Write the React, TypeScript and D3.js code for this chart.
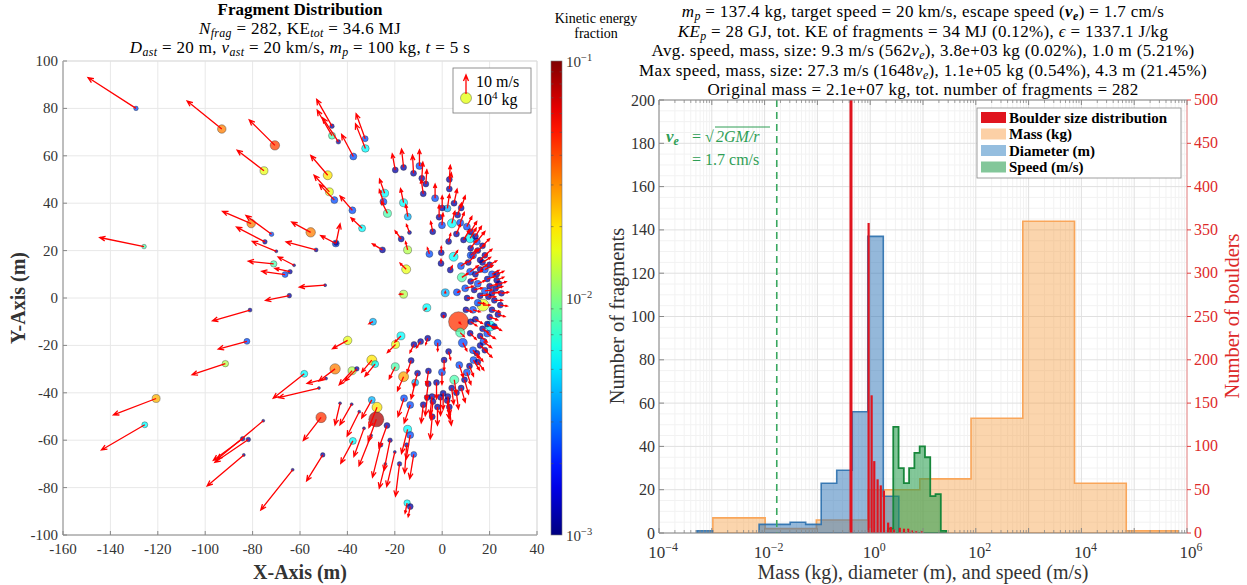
import React from 'react';
import * as d3 from 'd3';

// ---------------- DATA ----------------
// Fragment rows: [x (m), y (m), vx (m/s), vy (m/s), mass (kg), KE fraction]
const outerFragments: number[][] = [
  [-129.2, 80.0, -23.8, 15.3, 306, 0.0025],
  [-93.0, 71.3, -17.2, 13.9, 3600, 0.032],
  [-70.6, 64.4, -12.7, 12.6, 5500, 0.042],
  [-75.2, 53.7, -13.3, 10.2, 2800, 0.016],
  [-125.8, 21.7, -22.0, 4.5, 306, 0.008],
  [-46.5, 72.5, -7.6, 13.3, 306, 0.0012],
  [-46.5, 68.5, -7.3, 12.6, 1640, 0.008],
  [-43.8, 65.9, -7.8, 11.9, 306, 0.0012],
  [-37.5, 59.7, -5.8, 10.9, 1640, 0.0025],
  [-32.5, 67.2, -4.5, 12.4, 884, 0.0025],
  [-32.4, 63.1, -4.9, 12.2, 2200, 0.0056],
  [-48.3, 51.8, -8.4, 9.8, 4480, 0.02],
  [-47.6, 44.8, -7.6, 8.2, 2800, 0.016],
  [-45.5, 41.3, -7.4, 7.8, 1640, 0.0025],
  [-37.9, 37.0, -6.1, 7.1, 1640, 0.0025],
  [-33.8, 29.4, -5.5, 5.2, 1640, 0.0056],
  [-80.6, 31.4, -14.2, 6.1, 3600, 0.032],
  [-72.0, 26.9, -12.7, 9.3, 306, 0.0025],
  [-74.8, 23.7, -14.1, 7.3, 306, 0.0012],
  [-53.2, 20.3, -14.9, 4.0, 175, 0.0012],
  [-70.0, 19.7, -11.9, 4.9, 55, 0.0012],
  [-55.5, 27.7, -9.4, 5.1, 5500, 0.032],
  [-44.9, 23.0, -7.5, 3.9, 1640, 0.0025],
  [-44.8, 23.1, 2.0, 9.6, 306, 0.0012],
  [-71.1, 14.4, -12.6, 1.3, 1200, 0.008],
  [-62.5, 13.8, -7.9, 4.1, 55, 0.0012],
  [-66.3, 9.9, -11.6, 1.6, 884, 0.0025],
  [-64.2, 11.1, -7.5, 1.6, 306, 0.0012],
  [-49.4, 5.4, -12.8, -0.9, 55, 0.0012],
  [-64.5, 1.0, -11.8, -2.4, 306, 0.0012],
  [-81.1, -5.1, -18.6, -5.3, 175, 0.0012],
  [-82.4, -18.3, -14.2, -3.8, 884, 0.0025],
  [-91.5, -27.7, -16.5, -5.5, 1200, 0.0126],
  [-120.7, -42.4, -21.2, -8.1, 2800, 0.025],
  [-125.5, -53.5, -21.5, -12.5, 884, 0.0056],
  [-81.8, -59.7, -16.6, -11.3, 306, 0.0012],
  [-84.2, -59.4, -14.5, -10.7, 306, 0.0012],
  [-75.5, -51.8, -22.9, -19.1, 55, 0.0012],
  [-83.7, -66.2, -18.2, -15.4, 55, 0.0012],
  [-63.1, -72.5, -15.8, -19.9, 55, 0.0012],
  [-50.4, -66.2, -8.0, -12.9, 306, 0.0012],
  [-51.1, -50.4, -8.8, -11.4, 8000, 0.045],
  [-37.7, -60.3, -6.0, -11.1, 1640, 0.0056],
  [-45.2, -29.9, -8.0, -6.0, 8000, 0.032],
  [-39.9, -17.9, -7.5, -4.1, 3600, 0.016],
  [-38.0, -30.7, -6.4, -6.9, 2800, 0.0126],
  [-58.2, -32.0, -15.4, -12.1, 1640, 0.0056],
  [-49.0, -34.0, -9.4, -2.4, 55, 0.0012],
  [-52.0, -38.0, -20.0, -4.7, 55, 0.0012],
  [-36.0, -29.9, -5.9, -6.0, 306, 0.0012],
  [-43.1, -44.4, -2.5, -10.7, 55, 0.0012],
  [-38.2, -44.8, -5.8, -10.2, 55, 0.0012],
  [-33.0, -55.0, -5.0, -14.0, 55, 0.0012],
  [-30.0, -58.0, -6.0, -15.0, 55, 0.0012],
  [-26.0, -62.0, -4.0, -16.0, 306, 0.0012],
  [-22.0, -60.0, -3.0, -15.0, 306, 0.0012],
  [-20.0, -65.0, -4.0, -17.0, 55, 0.0012],
  [-18.0, -70.0, -2.0, -16.0, 306, 0.0012],
  [-24.0, -70.0, -3.0, -12.0, 55, 0.0012],
  [-15.0, -62.0, -1.0, -14.0, 306, 0.0012],
  [-12.0, -66.0, -2.0, -12.0, 884, 0.0025],
  [-35.0, -48.0, -6.0, -12.0, 55, 0.0012],
  [-14.8, -86.5, -1.0, -5.0, 1200, 0.0056],
  [-13.5, -88.0, -1.0, -5.0, 884, 0.0012],
];

const upperFragments: number[][] = [
  [-19.8, 54.0, -1.5, 8, 884, 0.0012],
  [-16.3, 55.1, -1, 9, 884, 0.0012],
  [-9.6, 55.7, 0, 8, 1640, 0.0025],
  [-12.1, 52.6, -0.5, 9, 884, 0.0012],
  [-8.6, 50.5, 0.5, 8, 884, 0.0012],
  [-6.9, 48.1, 0.5, 7, 884, 0.0012],
  [-24.3, 44.2, -2.5, 7, 2800, 0.0056],
  [-24.8, 40.6, -2, 6, 1640, 0.0025],
  [-23.1, 35.7, -3, 6, 2800, 0.008],
  [-16.3, 40.2, -1.5, 7, 2800, 0.0056],
  [-14.5, 34.3, -1, 6, 1640, 0.004],
  [-13.8, 27.6, -1.5, 4, 175, 0.0012],
  [-17.3, 24.9, -3, 4, 884, 0.0012],
  [-14.6, 20.3, -1, 4, 2800, 0.0126],
  [-15.2, 12.1, -3, 3, 4480, 0.016],
  [-25.2, 20.3, -5, 3, 884, 0.0012],
  [-3.0, 42.1, 0, 7, 1640, 0.0025],
  [3.0, 46.0, 1, 8, 884, 0.0012],
  [-0.1, 30.7, 0.5, 6, 1640, 0.0025],
  [-1.3, 34.1, 0, 6, 884, 0.0012],
  [2.2, 37.8, 1, 7, 1640, 0.004],
  [4.1, 31.5, 1.5, 6, 4480, 0.0056],
  [6.5, 35.0, 2, 6, 884, 0.0012],
  [7.6, 31.8, 2, 5, 1640, 0.0025],
  [10.4, 30.1, 2.5, 5, 1640, 0.0025],
  [11.8, 25.2, 3, 5, 4480, 0.0056],
  [9.0, 24.5, 3, 5, 884, 0.0012],
  [14.6, 23.8, 4, 5, 1640, 0.0025],
  [2.7, 23.8, 1, 4, 884, 0.0012],
  [-0.4, 19.1, 0, 3, 884, 0.0012],
  [-5.4, 18.6, -1, 3, 1640, 0.0025],
  [-0.5, 14.6, 0, 2, 884, 0.0012],
  [4.8, 17.4, 2, 3, 4480, 0.0056],
  [3.4, 11.8, 1, 2, 884, 0.0012],
  [7.9, 13.5, 3, 2, 1640, 0.0025],
  [8.3, 8.7, 3, 2, 4480, 0.008],
  [11.8, 11.1, 4, 3, 1640, 0.0025],
  [9.7, 4.1, 4, 1, 1640, 0.0025],
  [13.5, 3.4, 4, 1, 884, 0.0012],
  [5.0, 40.0, 1.5, 7, 884, 0.0012],
  [8.0, 38.0, 2, 6, 884, 0.0012],
  [0.0, 38.0, 0, 6, 884, 0.0012],
  [-4.0, 28.0, -1, 5, 884, 0.0012],
  [12.0, 28.0, 3, 5, 884, 0.0012],
  [6.0, 27.0, 2, 5, 884, 0.0012],
  [3.0, 50.0, 0.5, 7, 884, 0.0012],
  [-8.0, 44.0, -1, 7, 884, 0.0012],
];

const arcFragments: number[][] = [
  [15, 20, 3.5, 3, 884, 0.0012],
  [17, 15, 4, 2.5, 884, 0.0012],
  [18, 12, 4, 2, 1640, 0.0025],
  [19, 8, 4, 1.5, 884, 0.0012],
  [20, 5, 4, 1, 884, 0.0012],
  [21, 2, 4, 0.5, 884, 0.0012],
  [22, -1, 4, 0, 884, 0.0012],
  [21, -5, 4, -1, 884, 0.0012],
  [20, -8, 4, -1.5, 884, 0.0012],
  [19, -15, 4, -2.5, 1640, 0.0025],
  [16, -20, 3.5, -3, 884, 0.0012],
  [12, 18, 3, 3, 1640, 0.0025],
  [14, 10, 3.5, 2, 884, 0.0012],
  [15, 6, 3.5, 1.5, 1640, 0.0025],
  [16, 1, 4, 0.5, 884, 0.0012],
  [13, -5, 3.5, -1, 1640, 0.0025],
  [14, -9, 3.5, -2, 884, 0.0012],
  [10, -5, 3, -1, 884, 0.0012],
  [11, 15, 3, 3, 884, 0.0012],
  [16, 16, 3.5, 3, 884, 0.0012],
  [18, 18, 3.5, 3, 884, 0.0012],
  [23, 10, 3.5, 1.5, 884, 0.0012],
  [24, 6, 3.5, 1, 884, 0.0012],
  [25, 2, 3.5, 0.5, 884, 0.0012],
  [24.5, -3, 3.5, -0.5, 884, 0.0012],
  [23.5, -7, 3.5, -1, 884, 0.0012],
  [22, -12, 3.5, -2, 884, 0.0012],
  [20, 14, 3.5, 2, 884, 0.0012],
  [21, 10, 3.5, 2, 1640, 0.0025],
  [22.5, 4, 3.5, 1, 884, 0.0012],
  [19, -11, 3.5, -2, 884, 0.0012],
  [17, -13, 3, -2, 884, 0.0012],
  [18, 3, 3.5, 0.5, 1640, 0.0025],
  [19.5, 0.5, 3.5, 0, 884, 0.0012],
  [23, 7.5, 3.5, 1.5, 884, 0.0012],
  [12, 21, 3, 4, 884, 0.0012],
  [14, 26, 3, 5, 884, 0.0012],
  [17, 22, 3.5, 3.5, 884, 0.0012],
  [13, 18, 3, 3, 1640, 0.0025],
  [16, 12, 3.5, 2.5, 884, 0.0012],
  [12, 7, 3, 1.5, 884, 0.0012],
  [10.5, 0, 3, 0, 884, 0.0012],
  [15, -2, 3.5, -0.5, 1640, 0.0025],
  [12, -10, 3, -2, 884, 0.0012],
  [16, -16, 3.5, -3, 884, 0.0012],
  [18, -22, 3.5, -3.5, 884, 0.0012],
  [15, -27, 3, -4, 884, 0.0012],
  [13, -22, 3, -4, 1640, 0.0025],
  [17.2, -3.0, 3.5, 0, 14000, 0.016],
  [1.3, 2.2, 0, 0.5, 2800, 0.004],
  [6.2, 2.4, 1.5, 0.5, 1640, 0.0025],
  [-6.5, -4.1, -1, -1, 2800, 0.0056],
  [-16.3, 1.6, -2, 0, 2800, 0.0126],
  [-29.2, -10.0, -2, -1, 1640, 0.004],
  [0.6, -7.2, 0, -1, 884, 0.0012],
  [6.9, -10.0, 1, -1, 109000, 0.045],
  [7.6, -14.6, 2, -2, 4480, 0.008],
  [20.3, -11.8, 4, -1, 6800, 0.0056],
];

const lowerFragments: number[][] = [
  [8.7, -18.9, 2, -4, 4480, 0.0025],
  [11.8, -14.9, 3, -3, 884, 0.0012],
  [17.4, -18.4, 4, -3, 1640, 0.0025],
  [14.6, -23.3, 3, -4, 884, 0.0012],
  [13.2, -26.2, 3, -5, 1640, 0.0025],
  [11.5, -28.7, 2, -5, 884, 0.0012],
  [7.2, -28.3, 2, -6, 1640, 0.0025],
  [10.4, -31.4, 2, -6, 1640, 0.0025],
  [9.4, -34.5, 2, -7, 884, 0.0012],
  [5.1, -34.5, 1, -7, 4480, 0.008],
  [-0.1, -31.3, 0, -6, 1640, 0.0025],
  [2.7, -22.6, 1, -4, 884, 0.0012],
  [0.8, -26.2, 0, -5, 884, 0.0012],
  [-1.9, -18.9, 0, -4, 1640, 0.0025],
  [-6.1, -17.0, -1, -3, 884, 0.0012],
  [-9.1, -18.4, -2, -3, 884, 0.0012],
  [-11.9, -19.6, -2, -4, 884, 0.0012],
  [-17.4, -16.0, -3, -3, 2800, 0.0056],
  [-19.7, -19.6, -4, -4, 2800, 0.016],
  [-19.8, -29.0, -3, -6, 2800, 0.008],
  [-16.3, -33.2, -3, -7, 6800, 0.027],
  [-13.1, -26.4, -2, -6, 884, 0.0012],
  [-10.4, -31.7, -2, -7, 884, 0.0012],
  [-5.8, -30.8, -1, -7, 884, 0.0012],
  [-11.4, -35.7, -2, -8, 1640, 0.004],
  [-5.9, -36.2, -1, -8, 884, 0.0012],
  [-2.4, -35.7, 0, -8, 884, 0.0012],
  [0.4, -40.2, 0, -8, 884, 0.0012],
  [-0.7, -41.9, 0, -9, 884, 0.0012],
  [2.4, -41.6, 1, -9, 884, 0.0012],
  [2.1, -43.3, 1, -9, 884, 0.0012],
  [-4.3, -41.6, -1, -9, 884, 0.0012],
  [-3.9, -43.7, -1, -9, 884, 0.0012],
  [-6.3, -42.0, -1, -9, 884, 0.0012],
  [-16.1, -42.3, -3, -9, 1640, 0.0025],
  [-13.5, -45.1, -3, -9, 1640, 0.0025],
  [-23.3, -53.8, -4, -11, 884, 0.0012],
  [-27.8, -51.2, -4, -11, 35000, 0.08],
  [-27.5, -46.1, -4, -10, 6800, 0.02],
  [-29.7, -43.0, -5, -9, 1640, 0.004],
  [-29.7, -26.2, -5, -6, 6800, 0.02],
  [-28.3, -27.9, -5, -6, 1640, 0.0056],
  [-4.2, -50.1, -1, -11, 884, 0.0012],
  [-14.6, -55.4, -3, -12, 2800, 0.0056],
  [-13.5, -57.8, -2, -12, 1640, 0.0025],
  [4.0, -38.0, 1, -8, 884, 0.0012],
  [6.0, -40.0, 1, -8, 884, 0.0012],
  [-2.0, -46.0, 0, -9, 884, 0.0012],
  [8.0, -38.0, 2, -7, 884, 0.0012],
  [-8.0, -45.0, -1, -9, 884, 0.0012],
  [3.0, -46.0, 1, -9, 884, 0.0012],
];

// Histogram: mass (kg) – log10 bin edges and counts
const massEdgesLog = [-2.98, -1.99, -1.02, -0.04, 0.94, 1.91, 2.89, 3.87, 4.85, 5.83];
const massCounts = [7, 2, 6, 20, 25, 53, 144, 23, 1];
// Histogram: diameter (m)
const diamEdgesLog = [-3.28, -2.986, -2.692, -2.398, -2.104, -1.81, -1.516, -1.222, -0.928, -0.634, -0.34, -0.046, 0.248, 0.542];
const diamCounts = [1, 0, 0, 0, 4, 4, 5, 4, 23, 29, 56, 137, 17];
// Histogram: speed (m/s)
const speedEdgesLog = [0.337, 0.437, 0.537, 0.637, 0.737, 0.837, 0.937, 1.037, 1.137, 1.237, 1.337, 1.437];
const speedCounts = [2, 49, 30, 23, 30, 37, 40, 35, 17, 18, 1];
// Boulder size distribution (right axis): log10 size and counts
const boulderLogSize = [-0.364, -0.03, 0.027, 0.077, 0.14, 0.2, 0.26, 0.34, 0.39, 0.45, 0.56, 0.64, 0.72, 0.79, 0.87, 0.98];
const boulderCounts = [600, 358, 159, 83, 62, 55, 49, 12, 7, 4, 6, 5, 5, 3, 2, 2];
const escapeSpeed = 0.017;

const xTicksLeft = [-160, -140, -120, -100, -80, -60, -40, -20, 0, 20, 40];
const yTicksLeft = [-100, -80, -60, -40, -20, 0, 20, 40, 60, 80, 100];
const yTicksRightL = [0, 20, 40, 60, 80, 100, 120, 140, 160, 180, 200];
const yTicksRightR = [0, 50, 100, 150, 200, 250, 300, 350, 400, 450, 500];
const xLogTicks = [-4, -2, 0, 2, 4, 6];

// ---------------- HELPERS ----------------
const FONT = "'Liberation Serif', 'Tinos', 'Times New Roman', 'DejaVu Serif', serif";

const jet = (t: number) => {
  const c = (v: number) => Math.max(0, Math.min(1, v));
  const r = c(1.5 - Math.abs(4 * t - 3));
  const g = c(1.5 - Math.abs(4 * t - 2));
  const b = c(1.5 - Math.abs(4 * t - 1));
  return `rgb(${Math.round(r * 255)},${Math.round(g * 255)},${Math.round(b * 255)})`;
};

type Seg = [string, string?];
function Rich(props: { x: number; y: number; segs: Seg[]; size: number; anchor?: string; fill?: string; weight?: string; spacing?: number }) {
  const { x, y, segs, size, anchor = 'middle', fill = '#000', weight, spacing } = props;
  let shift = 0;
  const spans = segs.map(([t, s = ''], i) => {
    const sub = s.includes('_');
    const sup = s.includes('^');
    const target = sub ? size * 0.2 : sup ? -size * 0.4 : 0;
    const dy = target - shift;
    shift = target;
    return (
      <tspan key={i} dy={dy !== 0 ? dy : undefined}
        fontStyle={s.includes('i') ? 'italic' : undefined}
        fontWeight={s.includes('b') ? 'bold' : undefined}
        fontSize={sub || sup ? size * 0.7 : undefined}>{t}</tspan>
    );
  });
  return (
    <text x={x} y={y} fontSize={size} textAnchor={anchor as any} fill={fill} fontWeight={weight} letterSpacing={spacing} style={{ fontFamily: FONT }}>{spans}</text>
  );
}

function stepPaths(edges: number[], counts: number[], xs: (v: number) => number, ys: (v: number) => number) {
  const paths: string[] = [];
  let i = 0;
  while (i < counts.length) {
    if (counts[i] <= 0) { i++; continue; }
    let j = i;
    while (j < counts.length && counts[j] > 0) j++;
    let d = `M${xs(edges[i])},${ys(0)}`;
    for (let k = i; k < j; k++) {
      d += `L${xs(edges[k])},${ys(counts[k])}L${xs(edges[k + 1])},${ys(counts[k])}`;
    }
    d += `L${xs(edges[j])},${ys(0)}Z`;
    paths.push(d);
    i = j;
  }
  return paths;
}

// ---------------- APP ----------------
export default function App() {
  const L = { x0: 63, x1: 537, y0: 61, y1: 535 };
  const xs = d3.scaleLinear().domain([-160, 40]).range([L.x0, L.x1]);
  const ys = d3.scaleLinear().domain([-100, 100]).range([L.y1, L.y0]);
  const rScale = d3.scalePow().exponent(0.25).domain([0, 1e4]).range([0, 5.5]);
  const keT = d3.scaleLog().domain([1e-3, 1e-1]).range([0, 1]).clamp(true);
  const quiverK = 0.85;

  const frags = [...outerFragments, ...upperFragments, ...arcFragments, ...lowerFragments];
  const sorted = [...frags].sort((a, b) => b[4] - a[4]);

  const cbX0 = 551, cbX1 = 562;
  const cbScale = d3.scaleLog().domain([1e-3, 1e-1]).range([L.y1, L.y0]);
  const gradStops = d3.range(0, 1.0001, 0.05);

  const R = { x0: 659, x1: 1187, y0: 100, y1: 533 };
  const xr = d3.scaleLog().domain([1e-4, 1e6]).range([R.x0, R.x1]);
  const xrl = (v: number) => xr(Math.pow(10, v));
  const yl = d3.scaleLinear().domain([0, 200]).range([R.y1, R.y0]);
  const yr = d3.scaleLinear().domain([0, 500]).range([R.y1, R.y0]);

  const minorX: number[] = [];
  for (let e = -4; e < 6; e++) for (let m = 2; m <= 9; m++) minorX.push(m * Math.pow(10, e));
  const minorY = d3.range(0, 201, 5).filter((v) => v % 20 !== 0);

  const arrow = (f: number[], i: number) => {
    const x0 = xs(f[0]), y0 = ys(f[1]);
    const x1 = xs(f[0] + f[2] * quiverK), y1 = ys(f[1] + f[3] * quiverK);
    const len = Math.hypot(x1 - x0, y1 - y0);
    if (len < 0.5) return null;
    const a = Math.atan2(y1 - y0, x1 - x0);
    const h = Math.min(6, Math.max(2, len * 0.3));
    const da = 0.4;
    const hx1 = x1 - h * Math.cos(a - da), hy1 = y1 - h * Math.sin(a - da);
    const hx2 = x1 - h * Math.cos(a + da), hy2 = y1 - h * Math.sin(a + da);
    return (
      <path key={i} d={`M${x0},${y0}L${x1},${y1}M${hx1},${hy1}L${x1},${y1}L${hx2},${hy2}`} stroke="#ff0000" strokeWidth={1.3} fill="none" />
    );
  };

  const gridC = '#e8e8e8';
  const minorC = '#f2f2f2';
  const titleSize = 17;
  const titleSpacing = 0.35;

  return (
    <svg width={1247} height={585} style={{ position: 'absolute', left: 0, top: 0, background: '#fff', fontFamily: FONT }}>
      <defs>
        <linearGradient id="jetGrad" x1="0" y1="1" x2="0" y2="0">
          {gradStops.map((t, i) => <stop key={i} offset={t} stopColor={jet(t)} />)}
        </linearGradient>
        <clipPath id="clipR"><rect x={R.x0} y={R.y0} width={R.x1 - R.x0} height={R.y1 - R.y0} /></clipPath>
        <clipPath id="clipL"><rect x={L.x0} y={L.y0} width={L.x1 - L.x0} height={L.y1 - L.y0} /></clipPath>
      </defs>

      {/* ============ LEFT PANEL ============ */}
      <rect x={L.x0} y={L.y0} width={L.x1 - L.x0} height={L.y1 - L.y0} fill="#fff" />
      {xTicksLeft.map((t) => <line key={'gx' + t} x1={xs(t)} x2={xs(t)} y1={L.y0} y2={L.y1} stroke={gridC} strokeWidth={1} />)}
      {yTicksLeft.map((t) => <line key={'gy' + t} x1={L.x0} x2={L.x1} y1={ys(t)} y2={ys(t)} stroke={gridC} strokeWidth={1} />)}
      <g clipPath="url(#clipL)">
        {sorted.map((f, i) => (
          <circle key={i} cx={xs(f[0])} cy={ys(f[1])} r={rScale(f[4])} fill={jet(keT(f[5]))} fillOpacity={0.75} stroke="#222" strokeOpacity={0.6} strokeWidth={0.6} />
        ))}
        {frags.map(arrow)}
      </g>

      <line x1={L.x0} x2={L.x1} y1={L.y1} y2={L.y1} stroke="#888" />
      <line x1={L.x0} x2={L.x0} y1={L.y0} y2={L.y1} stroke="#888" />
      <line x1={L.x0} x2={L.x1} y1={L.y0} y2={L.y0} stroke="#ddd" />
      <line x1={L.x1} x2={L.x1} y1={L.y0} y2={L.y1} stroke="#ddd" />
      {xTicksLeft.map((t) => (
        <g key={'xt' + t}>
          <line x1={xs(t)} x2={xs(t)} y1={L.y1} y2={L.y1 - 4} stroke="#888" />
          <text x={xs(t)} y={554} fontSize={15} textAnchor="middle" fill="#333">{t}</text>
        </g>
      ))}
      {yTicksLeft.map((t) => (
        <g key={'yt' + t}>
          <line x1={L.x0} x2={L.x0 + 4} y1={ys(t)} y2={ys(t)} stroke="#888" />
          <text x={L.x0 - 5} y={ys(t) + 5} fontSize={15} textAnchor="end" fill="#333">{t}</text>
        </g>
      ))}
      <text x={300} y={579} fontSize={20} fontWeight="bold" textAnchor="middle" fill="#333">X-Axis (m)</text>
      <text transform="translate(25,298) rotate(-90)" fontSize={20} fontWeight="bold" textAnchor="middle" fill="#333">Y-Axis (m)</text>

      <text x={300} y={15} fontSize={17} fontWeight="bold" textAnchor="middle">Fragment Distribution</text>
      <Rich x={300} y={34} size={titleSize} spacing={titleSpacing} segs={[['N', 'i'], ['frag', 'i_'], [' = 282, KE'], ['tot', 'i_'], [' = 34.6 MJ']]} />
      <Rich x={300} y={53} size={titleSize} spacing={titleSpacing} segs={[['D', 'i'], ['ast', 'i_'], [' = 20 m, '], ['v', 'i'], ['ast', 'i_'], [' = 20 km/s, '], ['m', 'i'], ['p', 'i_'], [' = 100 kg, '], ['t', 'i'], [' = 5 s']]} />

      <rect x={453} y={68} width={78} height={45} fill="#fff" stroke="#777" strokeWidth={0.8} />
      <circle cx={466} cy={98} r={5.5} fill={jet(0.6)} fillOpacity={0.8} stroke="#222" strokeOpacity={0.6} strokeWidth={0.6} />
      <path d="M466,94L466,75M463.5,81L466,75L468.5,81" stroke="#ff0000" strokeWidth={1.3} fill="none" />
      <text x={476} y={87} fontSize={16}>10 m/s</text>
      <Rich x={476} y={105} size={16} anchor="start" segs={[['10'], ['4', '^'], [' kg']]} />

      <rect x={cbX0} y={L.y0} width={cbX1 - cbX0} height={L.y1 - L.y0} fill="url(#jetGrad)" />
      <rect x={cbX0} y={L.y0} width={cbX1 - cbX0} height={L.y1 - L.y0} fill="none" stroke="#777" strokeWidth={0.6} />
      {[1e-3, 1e-2].flatMap((d) => d3.range(2, 10).map((m) => m * d)).map((v, i) => (
        <g key={'cbm' + i}>
          <line x1={cbX1} x2={cbX1 - 2.5} y1={cbScale(v)} y2={cbScale(v)} stroke="#555" strokeWidth={0.6} />
          <line x1={cbX0} x2={cbX0 + 2.5} y1={cbScale(v)} y2={cbScale(v)} stroke="#555" strokeWidth={0.6} />
        </g>
      ))}
      {[-3, -2, -1].map((e) => (
        <Rich key={'cbl' + e} x={566} y={cbScale(Math.pow(10, e)) + 6} size={15} anchor="start" fill="#333" segs={[['10'], ['−' + Math.abs(e), '^']]} />
      ))}
      <text x={596} y={23} fontSize={14} textAnchor="middle">Kinetic energy</text>
      <text x={596} y={38} fontSize={14} textAnchor="middle">fraction</text>

      {/* ============ RIGHT PANEL ============ */}
      <rect x={R.x0} y={R.y0} width={R.x1 - R.x0} height={R.y1 - R.y0} fill="#fff" />
      {minorX.map((v, i) => <line key={'mx' + i} x1={xr(v)} x2={xr(v)} y1={R.y0} y2={R.y1} stroke={minorC} />)}
      {minorY.map((v, i) => <line key={'my' + i} x1={R.x0} x2={R.x1} y1={yl(v)} y2={yl(v)} stroke={minorC} />)}
      {d3.range(-4, 7).map((e) => <line key={'gxr' + e} x1={xrl(e)} x2={xrl(e)} y1={R.y0} y2={R.y1} stroke="#e0e0e0" />)}
      {yTicksRightL.map((t) => <line key={'gyr' + t} x1={R.x0} x2={R.x1} y1={yl(t)} y2={yl(t)} stroke="#e0e0e0" />)}

      <g clipPath="url(#clipR)">
        {stepPaths(massEdgesLog, massCounts, xrl, yl).map((d, i) => (
          <path key={'ms' + i} d={d} fill="#f7a14a" fillOpacity={0.45} stroke="#f9a65a" strokeWidth={1.6} />
        ))}
        {stepPaths(diamEdgesLog, diamCounts, xrl, yl).map((d, i) => (
          <path key={'dm' + i} d={d} fill="#2a72b5" fillOpacity={0.5} stroke="#2a6fad" strokeOpacity={0.9} strokeWidth={1.6} />
        ))}
        {stepPaths(speedEdgesLog, speedCounts, xrl, yl).map((d, i) => (
          <path key={'sp' + i} d={d} fill="#1f9a47" fillOpacity={0.55} stroke="#17873b" strokeWidth={1.8} />
        ))}
        {boulderLogSize.map((s, i) => (
          <rect key={'bd' + i} x={xrl(s) - (i === 0 ? 1.5 : 1.1)} width={i === 0 ? 3 : 2.2} y={yr(boulderCounts[i])} height={R.y1 - yr(boulderCounts[i])} fill="#e0141e" />
        ))}
        <line x1={xr(escapeSpeed)} x2={xr(escapeSpeed)} y1={R.y0} y2={R.y1} stroke="#3aa860" strokeWidth={1.6} strokeDasharray="7,5" />
      </g>

      <Rich x={666} y={142} size={17} anchor="start" fill="#2e9e55" segs={[['v', 'bi'], ['e', 'bi_']]} />
      <text x={692} y={142} fontSize={16} fill="#2e9e55">= √</text>
      <text x={716} y={142} fontSize={16} fill="#2e9e55" fontStyle="italic">2GM/r</text>
      <line x1={715} x2={770} y1={127} y2={127} stroke="#2e9e55" strokeWidth={1} />
      <text x={692} y={165} fontSize={16} fill="#2e9e55">= 1.7 cm/s</text>

      <line x1={R.x0} x2={R.x1} y1={R.y1} y2={R.y1} stroke="#888" />
      <line x1={R.x0} x2={R.x1} y1={R.y0} y2={R.y0} stroke="#888" />
      <line x1={R.x0} x2={R.x0} y1={R.y0} y2={R.y1} stroke="#888" />
      <line x1={R.x1} x2={R.x1} y1={R.y0} y2={R.y1} stroke="#f08a8a" />
      {minorX.map((v, i) => (
        <g key={'mxt' + i}>
          <line x1={xr(v)} x2={xr(v)} y1={R.y1} y2={R.y1 - 3} stroke="#888" strokeWidth={0.8} />
          <line x1={xr(v)} x2={xr(v)} y1={R.y0} y2={R.y0 + 3} stroke="#888" strokeWidth={0.8} />
        </g>
      ))}
      {d3.range(-4, 7).map((e) => (
        <g key={'xtr' + e}>
          <line x1={xrl(e)} x2={xrl(e)} y1={R.y1} y2={R.y1 - 5} stroke="#888" />
          <line x1={xrl(e)} x2={xrl(e)} y1={R.y0} y2={R.y0 + 5} stroke="#888" />
        </g>
      ))}
      {xLogTicks.map((e) => (
        <Rich key={'xl' + e} x={xrl(e) + 4} y={557.5} size={17} fill="#333" segs={[['10'], [e < 0 ? '−' + Math.abs(e) : String(e), '^']]} />
      ))}
      {yTicksRightL.map((t) => (
        <g key={'ylt' + t}>
          <line x1={R.x0} x2={R.x0 + 5} y1={yl(t)} y2={yl(t)} stroke="#888" />
          <text x={R.x0 - 4} y={yl(t) + 5.5} fontSize={16} textAnchor="end" fill="#333">{t}</text>
        </g>
      ))}
      {yTicksRightR.map((t) => (
        <g key={'yrt' + t}>
          <line x1={R.x1} x2={R.x1 + 4} y1={yr(t)} y2={yr(t)} stroke="#e04040" />
          <text x={R.x1 + 7} y={yr(t) + 5} fontSize={16} textAnchor="start" fill="#dd2a2a">{t}</text>
        </g>
      ))}
      <text transform="translate(624,316) rotate(-90)" fontSize={20.5} textAnchor="middle" fill="#333">Number of fragments</text>
      <text transform="translate(1239,316) rotate(-90)" fontSize={20.5} textAnchor="middle" fill="#dd2a2a">Number of boulders</text>
      <text x={923} y={579} fontSize={20} textAnchor="middle" fill="#333">Mass (kg), diameter (m), and speed (m/s)</text>

      <rect x={977} y={108} width={204} height={70} fill="#fff" stroke="#888" strokeWidth={0.8} />
      {[
        ['Boulder size distribution', '#e0141e'],
        ['Mass (kg)', '#fcd0a6'],
        ['Diameter (m)', '#95bedf'],
        ['Speed (m/s)', '#83c79a'],
      ].map(([lab, col], i) => (
        <g key={'lg' + i}>
          <rect x={981} y={112 + i * 16.5} width={25} height={11} fill={col} />
          <text x={1009} y={122.5 + i * 16.5} fontSize={15} fontWeight="bold">{lab}</text>
        </g>
      ))}

      <Rich x={923} y={17} size={titleSize} spacing={titleSpacing} segs={[['m', 'i'], ['p', 'i_'], [' = 137.4 kg, target speed = 20 km/s, escape speed ('], ['v', 'bi'], ['e', 'bi_'], [') = 1.7 cm/s']]} />
      <Rich x={923} y={36.5} size={titleSize} spacing={titleSpacing} segs={[['KE', 'i'], ['p', 'i_'], [' = 28 GJ, tot. KE of fragments = 34 MJ (0.12%), '], ['ϵ', 'i'], [' = 1337.1 J/kg']]} />
      <Rich x={923} y={56} size={titleSize} spacing={titleSpacing} segs={[['Avg. speed, mass, size: 9.3 m/s (562'], ['v', 'i'], ['e', 'i_'], ['), 3.8e+03 kg (0.02%), 1.0 m (5.21%)']]} />
      <Rich x={923} y={75.5} size={titleSize} spacing={titleSpacing} segs={[['Max speed, mass, size: 27.3 m/s (1648'], ['v', 'i'], ['e', 'i_'], ['), 1.1e+05 kg (0.54%), 4.3 m (21.45%)']]} />
      <Rich x={923} y={95} size={titleSize} spacing={titleSpacing} segs={[['Original mass = 2.1e+07 kg, tot. number of fragments = 282']]} />
    </svg>
  );
}
